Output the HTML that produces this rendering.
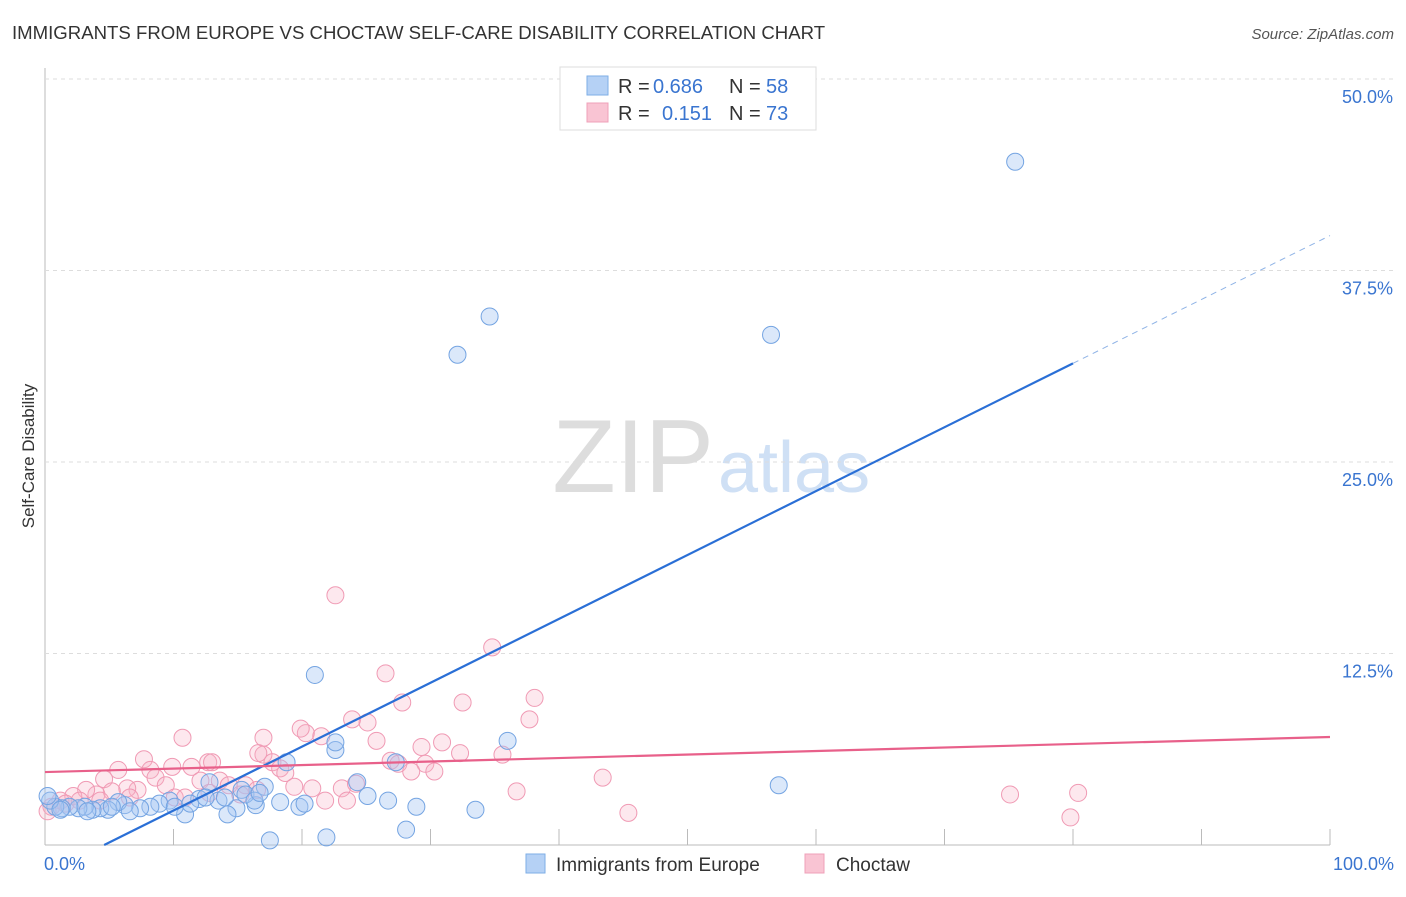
<!DOCTYPE html>
<html><head><meta charset="utf-8"><style>
body{margin:0;background:#fff;font-family:"Liberation Sans",sans-serif;}
svg text{font-family:"Liberation Sans",sans-serif;}
</style></head><body>
<svg id="c" width="1406" height="892" xmlns="http://www.w3.org/2000/svg">
<text x="12" y="39" font-size="18.6" fill="#333">IMMIGRANTS FROM EUROPE VS CHOCTAW SELF-CARE DISABILITY CORRELATION CHART</text>
<text x="1394" y="39" font-size="15" fill="#555" font-style="italic" text-anchor="end">Source: ZipAtlas.com</text>
<text x="34" y="456" font-size="17" fill="#333" text-anchor="middle" transform="rotate(-90 34 456)">Self-Care Disability</text>
<text x="714" y="492" font-size="104" fill="#ddd" text-anchor="end" font-family="Liberation Serif">ZIP</text>
<text x="718" y="492" font-size="72" fill="#cfe0f5">atlas</text>
<g id="grid"></g><g id="pts"></g><g id="lines"></g>
<g>
<rect x="560" y="67" width="256" height="63" fill="#fff" stroke="#ddd"/>
<rect x="587" y="76" width="21" height="19" fill="#b5d1f5" stroke="#7eaee6"/>
<rect x="587" y="103" width="21" height="19" fill="#f9c4d3" stroke="#efa0b8"/>
<text x="618" y="93" font-size="20" fill="#333">R =</text>
<text x="653" y="93" font-size="20" fill="#3a75d0">0.686</text>
<text x="729" y="93" font-size="20" fill="#333">N =</text>
<text x="766" y="93" font-size="20" fill="#3a75d0">58</text>
<text x="618" y="120" font-size="20" fill="#333">R =</text>
<text x="662" y="120" font-size="20" fill="#3a75d0">0.151</text>
<text x="729" y="120" font-size="20" fill="#333">N =</text>
<text x="766" y="120" font-size="20" fill="#3a75d0">73</text>
</g>
<g>
<rect x="526" y="854" width="19" height="19" fill="#b5d1f5" stroke="#7eaee6"/>
<text x="556" y="871" font-size="19" fill="#333">Immigrants from Europe</text>
<rect x="805" y="854" width="19" height="19" fill="#f9c4d3" stroke="#efa0b8"/>
<text x="836" y="871" font-size="19" fill="#333">Choctaw</text>
</g>
</svg>
<script>
const yTicks=[12.5,25,37.5,50];
const yTickLabels=["12.5%","25.0%","37.5%","50.0%"];
const xTickLabels=["0.0%","100.0%"];
const europeX=[75.5,34.6,32.1,56.5,21.0,22.6,22.6,36.0,57.1,18.8,27.3,24.3,25.1,26.7,28.9,33.5,28.1,21.9,17.5,19.8,20.2,18.3,16.4,14.9,14.2,17.1,15.3,13.5,12.8,12.0,10.9,9.7,8.9,8.2,7.4,6.2,5.7,4.9,4.3,3.7,3.1,2.6,1.9,1.3,0.8,0.4,0.2,6.6,10.1,11.3,12.5,14.0,15.6,16.3,16.7,1.2,3.3,5.2];
const europeY=[44.6,34.5,32.0,33.3,11.1,6.2,6.7,6.8,3.9,5.4,5.4,4.1,3.2,2.9,2.5,2.3,1.0,0.5,0.3,2.5,2.7,2.8,2.6,2.4,2.0,3.8,3.6,2.9,4.1,3.0,2.0,2.9,2.7,2.5,2.4,2.6,2.8,2.3,2.4,2.3,2.5,2.4,2.5,2.4,2.5,2.9,3.2,2.2,2.5,2.7,3.1,3.1,3.3,2.9,3.4,2.3,2.2,2.5];
const choctawX=[22.6,34.8,26.5,32.5,38.1,27.8,37.7,23.9,25.1,20.3,19.9,21.5,17.0,10.7,25.8,30.9,29.3,32.3,35.6,17.0,16.6,7.7,12.7,13.0,17.7,26.9,27.5,29.6,30.3,28.5,18.3,18.7,8.2,5.7,11.4,9.9,12.1,8.6,4.6,9.4,7.2,6.4,5.2,4.0,3.2,2.2,1.2,0.5,0.2,13.6,14.3,15.6,16.5,19.4,20.8,23.1,23.5,21.8,43.4,36.7,45.4,75.1,80.4,79.8,15.2,10.1,1.6,2.7,4.3,6.6,10.9,12.8,24.2];
const choctawY=[16.3,12.9,11.2,9.3,9.6,9.3,8.2,8.2,8.0,7.3,7.6,7.1,7.0,7.0,6.8,6.7,6.4,6.0,5.9,5.9,6.0,5.6,5.4,5.4,5.4,5.5,5.3,5.3,4.8,4.8,5.0,4.7,4.9,4.9,5.1,5.1,4.2,4.4,4.3,3.9,3.6,3.7,3.5,3.3,3.6,3.2,2.9,2.5,2.2,4.2,3.9,3.9,3.6,3.8,3.7,3.7,2.9,2.9,4.4,3.5,2.1,3.3,3.4,1.8,3.3,3.1,2.7,2.9,2.9,3.1,3.1,3.4,4.0];
const europeTrend=[-1.92,41.7];
const choctawTrend=[4.76,2.29];
const NS="http://www.w3.org/2000/svg";
const X0=45,X1=1330,Y0=845,YS=191.5/12.5;
const sx=v=>X0+(X1-X0)*v/100, sy=v=>Y0-v*YS;
function mk(t,a,p){const e=document.createElementNS(NS,t);for(const k in a)e.setAttribute(k,a[k]);p.appendChild(e);return e;}
const g=document.getElementById('grid');
let ax=mk('line',{x1:X0,y1:68,x2:X0,y2:Y0,stroke:'#bbb'},g);

let bx=mk('line',{x1:X0,y1:Y0,x2:X1,y2:Y0,stroke:'#bbb'},g);

yTicks.forEach((v,i)=>{
 const l=mk('line',{x1:X0,x2:1394,y1:sy(v),y2:sy(v),stroke:'#ddd','stroke-dasharray':'4,4'},g);
 
 const t=mk('text',{x:1393,y:sy(v)+24,'font-size':18,fill:'#3a75d0','text-anchor':'end'},g);t.textContent=yTickLabels[i];
 
});
for(let i=0;i<=10;i++){const l=mk('line',{x1:sx(i*10),x2:sx(i*10),y1:Y0-16,y2:Y0,stroke:'#bbb'},g);
 }
[[0,'start',44],[100,'end',1394]].forEach((d,i)=>{const t=mk('text',{x:d[2],y:870,'font-size':18,fill:'#3a75d0','text-anchor':d[1]},g);t.textContent=xTickLabels[i];
 });
const pg=document.getElementById('pts');
function pts(xs,ys,fill,stroke,name){xs.forEach((x,i)=>{const c=mk('circle',{cx:sx(x),cy:sy(ys[i]),r:8.5,fill:fill,stroke:stroke,'stroke-width':1},pg);
 });}
pts(choctawX,choctawY,'rgba(248,180,200,0.3)','#f09ab4','choctaw-point');
pts(europeX,europeY,'rgba(165,198,242,0.4)','#74a4e2','europe-point');
const lg=document.getElementById('lines');
const xs0=(0-europeTrend[0])/europeTrend[1]*100;
let l1=mk('line',{x1:sx(xs0),y1:sy(0),x2:sx(80),y2:sy(europeTrend[0]+europeTrend[1]*0.8),stroke:'#2a6fd6','stroke-width':2.2},lg);

let l2=mk('line',{x1:sx(80),y1:sy(europeTrend[0]+europeTrend[1]*0.8),x2:sx(100),y2:sy(europeTrend[0]+europeTrend[1]),stroke:'#8fb3e6','stroke-width':1,'stroke-dasharray':'6,5'},lg);

let l3=mk('line',{x1:sx(0),y1:sy(choctawTrend[0]),x2:sx(100),y2:sy(choctawTrend[0]+choctawTrend[1]),stroke:'#e8608a','stroke-width':2.2},lg);

</script>
</body></html>
